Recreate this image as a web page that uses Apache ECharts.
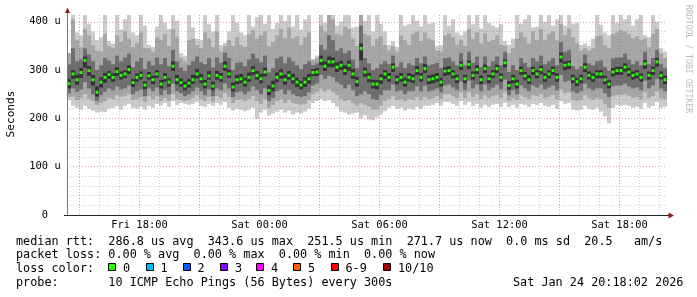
<!DOCTYPE html>
<html><head><meta charset="utf-8">
<script src="https://cdn.jsdelivr.net/npm/echarts@6/dist/echarts.min.js"></script>
<style>html,body{margin:0;padding:0;background:#fff}#c{width:697px;height:297px}</style>
</head><body><div id="c"></div>
<script>
// x values: hours since Fri 00:00; one column = 12 minutes
const START_HOUR = 14.375;
const STEP = 0.2;
const X_MAX = 44.375;
const Y_MAX = 414;

const median = [272,292,280,295,320,299,280,254,275,285, 291,285,297,289,292,301,274,285,289,269,
  288,280,292,271,285,275,308,280,274,267, 273,280,292,282,271,288,267,289,285,308,
  292,265,280,282,275,285,299,289,282,296, 258,267,285,292,280,289,282,275,269,275,
  282,295,296,320,308,317,317,306,310,299, 310,292,276,345,296,285,271,271,282,292,
  285,306,280,285,275,285,282,299,285,303, 280,282,285,275,298,299,292,282,310,282,
  312,289,301,280,303,282,292,303,285,315, 268,282,271,299,288,280,299,292,301,285,
  292,299,285,327,310,312,282,276,282,306, 289,285,292,292,280,271,296,299,299,306,
  296,289,292,285,313,289,299,317,289,280];
// lightest smoke: min .. max
const hi1 = [335,414,378,372,414,396,380,362,368,414, 360,355,414,384,405,414,378,372,414,392,
  352,348,390,414,398,385,414,402,335,330, 414,388,365,362,414,395,380,414,352,356,
  380,414,398,378,372,414,390,410,414,396, 414,385,398,414,402,414,390,414,384,405,
  414,323,330,414,398,414,414,392,400,414, 414,388,390,414,402,414,380,414,396,380,
  352,360,348,414,392,395,414,402,390,414, 396,398,350,352,414,392,405,378,372,380,
  414,395,414,386,414,398,392,388,395,360, 352,365,414,396,405,414,388,390,414,400,
  414,392,405,414,392,414,396,398,352,355, 350,365,414,394,378,372,414,398,414,405,
  414,392,405,414,372,368,414,400,345,338];
const lo1 = [238,226,222,218,226,220,216,212,214,213, 220,222,225,218,226,230,222,220,224,218,
  226,222,230,226,232,224,236,228,232,230, 228,230,234,226,224,230,226,232,228,234,
  222,216,220,218,215,218,222,200,212,218, 206,210,214,218,212,216,208,212,210,214,
  220,232,236,240,236,238,232,224,214,212, 208,210,212,200,206,198,196,202,208,215,
  222,226,220,222,216,220,218,224,220,226, 226,228,232,226,234,234,230,226,236,228,
  234,226,230,222,228,224,228,230,224,232, 224,228,222,230,228,224,230,228,232,226,
  224,228,220,236,230,232,218,216,218,226, 220,218,222,214,204,190,222,228,226,228,
  226,222,224,220,232,222,226,234,222,224];
// middle smoke
const hi2 = [335,405,362,348,385,372,352,340,338,375, 350,346,372,358,380,365,348,356,378,346,
  345,338,368,362,375,350,385,368,325,318, 362,365,352,345,378,366,348,380,338,350,
  362,350,368,352,348,375,382,365,372,380, 350,358,372,385,366,388,365,370,352,368,
  378,320,325,392,380,414,405,375,372,390, 385,365,350,414,375,372,350,365,370,352,
  340,350,338,372,362,352,375,380,360,378, 365,362,340,338,372,375,368,352,362,350,
  385,365,378,355,376,358,362,372,352,350, 335,345,365,378,368,355,380,362,385,362,
  375,380,362,395,372,386,368,356,340,345, 340,345,370,372,352,345,375,378,382,380,
  375,366,370,362,365,348,375,385,335,325];
const lo2 = [244,245,238,242,250,240,236,228,232,236, 242,240,248,244,246,250,238,240,244,234,
  246,240,246,236,242,236,250,240,238,236, 238,242,248,240,236,244,234,246,242,252,
  244,232,238,240,236,240,246,236,230,240, 222,228,236,240,232,238,232,230,228,230,
  238,250,254,262,256,260,254,248,240,236, 238,232,226,232,228,224,218,218,226,236,
  240,246,238,240,236,240,238,244,238,244, 240,242,246,240,250,250,246,242,254,242,
  254,244,250,240,248,242,246,248,242,254, 236,242,238,248,244,240,248,246,250,242,
  244,248,240,260,252,254,238,236,238,248, 242,238,242,240,230,222,246,248,248,250,
  246,242,244,240,254,242,246,256,242,240];
// dark smoke
const hi3 = [312,345,318,322,345,332,318,300,310,325, 320,312,330,318,326,334,306,318,325,302,
  318,310,326,312,325,308,342,318,305,298, 310,318,328,316,312,325,305,326,315,336,
  325,300,315,316,308,322,334,324,316,330, 295,304,324,328,314,326,318,310,302,312,
  318,310,314,352,342,372,362,340,345,335, 340,322,304,392,325,314,300,304,312,318,
  312,330,306,316,304,314,310,325,314,328, 310,312,315,304,325,326,318,310,335,310,
  338,315,328,306,328,308,318,328,310,338, 296,310,300,325,315,306,325,318,330,312,
  318,325,310,358,338,342,308,302,308,332, 314,310,318,320,306,298,324,326,326,334,
  322,312,318,310,338,312,325,342,312,304];
const lo3 = [252,262,255,260,275,262,250,236,248,255, 262,258,266,260,262,268,250,256,260,246,
  262,256,264,248,258,250,272,256,252,246, 250,256,264,256,248,260,246,262,258,272,
  262,244,254,256,250,256,266,258,250,262, 236,242,256,260,250,258,250,246,244,246,
  254,268,272,290,282,288,285,275,270,262, 270,258,246,250,256,250,240,238,248,258,
  258,270,256,258,250,256,256,266,256,268, 256,258,262,254,268,270,264,258,276,258,
  278,262,270,256,270,258,264,270,260,280, 248,258,250,268,262,256,268,264,270,260,
  264,268,258,290,276,278,256,252,256,272, 262,258,262,262,252,244,266,268,268,272,
  266,262,264,258,278,262,268,282,262,256];
// darkest smoke, around the median
const hi4 = [282,300,290,304,328,308,290,266,285,294, 298,293,306,297,300,310,282,293,297,277,
  296,288,300,280,294,283,318,290,283,276, 282,290,302,292,280,298,276,298,294,318,
  301,274,290,292,284,295,308,298,292,305, 268,278,295,302,290,298,292,284,278,285,
  292,302,304,330,318,328,326,316,320,310, 320,302,286,355,305,294,280,280,291,300,
  294,314,289,294,284,294,291,308,294,312, 289,291,294,284,306,308,300,290,318,290,
  320,297,310,289,311,290,300,311,293,322, 277,290,280,307,296,289,307,300,309,293,
  300,307,293,336,318,320,290,284,290,314, 297,293,300,300,288,279,304,307,307,314,
  304,297,300,293,321,297,307,325,297,288];
const lo4 = [262,282,270,284,305,288,268,245,264,274, 282,276,288,280,284,292,265,276,280,260,
  280,271,284,262,276,266,298,271,266,258, 264,272,283,273,262,280,258,280,276,298,
  284,256,271,273,266,276,290,280,273,287, 248,256,275,282,270,280,272,265,260,265,
  272,288,288,310,298,306,306,296,300,290, 298,282,266,320,286,275,262,260,272,282,
  276,296,271,276,266,276,273,290,276,294, 271,273,276,266,288,290,283,273,300,273,
  302,280,292,271,294,273,283,294,276,306, 259,273,262,290,279,271,290,283,292,276,
  283,290,276,316,300,302,273,267,273,296, 280,276,283,283,271,262,287,290,290,297,
  287,280,283,276,303,280,290,307,280,271];

const xTickHours = [18, 24, 30, 36, 42];
const xTickLabels = ['Fri 18:00', 'Sat 00:00', 'Sat 06:00', 'Sat 12:00', 'Sat 18:00'];
const yTickValues = [0, 100, 200, 300, 400];
const yTickLabels = ['0', '100 u', '200 u', '300 u', '400 u'];
const lossLabels = ['0', '1', '2', '3', '4', '5', '6-9', '10/10'];
const lossColors = ['#26ff00', '#00b8ff', '#0059ff', '#7e00ff', '#ff00ff', '#ff5e00', '#ff0000', '#a10000'];
const statLine1 = 'median rtt:  286.8 us avg  343.6 us max  251.5 us min  271.7 us now  0.0 ms sd  20.5   am/s';
const statLine2 = 'packet loss: 0.00 % avg  0.00 % max  0.00 % min  0.00 % now';
const probeLine = 'probe:       10 ICMP Echo Pings (56 Bytes) every 300s';
const stampText = 'Sat Jan 24 20:18:02 2026';

const times = median.map((_, i) => START_HOUR + STEP * i);

const FONT = '"DejaVu Sans Mono", monospace';
const FS = 11.8;
const AFS = 10.4;
const RED = 'rgba(210,60,60,0.5)';
const GRAY = 'rgba(140,140,140,0.45)';
const CLEAR = 'rgba(0,0,0,0)';
const xColors = [];
for (let k = 0; k < 24; k++) xColors.push(k === 5 ? RED : (k % 8 === 5 ? GRAY : CLEAR));
const yColors = [RED, GRAY, GRAY, GRAY, GRAY];

function bandSeries(lo, hi, color, z) {
  return {
    type: 'custom', z: z, clip: true, silent: true,
    data: times.map((t, i) => [t, lo[i], hi[i]]),
    encode: { x: 0, y: [1, 2] },
    renderItem: function (params, api) {
      const t = api.value(0);
      const a = api.coord([t, api.value(2)]);
      const b = api.coord([t + STEP, api.value(1)]);
      return { type: 'rect', shape: { x: a[0], y: a[1], width: b[0] - a[0], height: b[1] - a[1] }, style: { fill: color } };
    }
  };
}

const graphics = [
  { type: 'text', x: 10.7, y: 114, rotation: Math.PI / 2, style: { text: 'Seconds', font: '11.2px ' + FONT, fill: '#000', align: 'center', verticalAlign: 'middle' } },
  { type: 'text', x: 688, y: 59, rotation: -Math.PI / 2, style: { text: 'RRDTOOL / TOBI OETIKER', font: '8.2px ' + FONT, fill: '#bdbdbd', align: 'center', verticalAlign: 'middle' } },
  { type: 'text', x: 16, y: 241.5, style: { text: statLine1, font: FS + 'px ' + FONT, fill: '#000', verticalAlign: 'middle' } },
  { type: 'text', x: 16, y: 255.3, style: { text: statLine2, font: FS + 'px ' + FONT, fill: '#000', verticalAlign: 'middle' } },
  { type: 'text', x: 16, y: 268.8, style: { text: 'loss color:', font: FS + 'px ' + FONT, fill: '#000', verticalAlign: 'middle' } },
  { type: 'text', x: 16, y: 283, style: { text: probeLine, font: FS + 'px ' + FONT, fill: '#000', verticalAlign: 'middle' } },
  { type: 'text', x: 513, y: 283, style: { text: stampText, font: FS + 'px ' + FONT, fill: '#000', verticalAlign: 'middle' } },
  // axis arrows
  { type: 'line', shape: { x1: 67.5, y1: 15, x2: 67.5, y2: 12 }, style: { stroke: '#777', lineWidth: 1 } },
  { type: 'polygon', shape: { points: [[65, 13], [70, 13], [67.5, 7.5]] }, style: { fill: '#8b1a1a' } },
  { type: 'line', shape: { x1: 64, y1: 215.5, x2: 67, y2: 215.5 }, style: { stroke: '#222', lineWidth: 1 } },
  { type: 'line', shape: { x1: 667, y1: 215.5, x2: 669, y2: 215.5 }, style: { stroke: '#222', lineWidth: 1 } },
  { type: 'polygon', shape: { points: [[668.5, 212.5], [668.5, 218.5], [674, 215.5]] }, style: { fill: '#8b1a1a' } }
];
const boxX = [108, 145.5, 182.5, 220, 256, 293, 330.5, 383];
lossLabels.forEach((lab, i) => {
  graphics.push({ type: 'rect', shape: { x: Math.round(boxX[i]) + 0.5, y: 263.5, width: 7, height: 7 }, style: { fill: lossColors[i], stroke: '#000', lineWidth: 1 } });
  graphics.push({ type: 'text', x: boxX[i] + 15, y: 268.8, style: { text: lab, font: FS + 'px ' + FONT, fill: '#000', verticalAlign: 'middle' } });
});

const chart = echarts.init(document.getElementById('c'), null, { renderer: 'canvas' });
chart.setOption({
  backgroundColor: '#ffffff',
  animation: false,
  grid: { left: 67, right: 30, top: 15, bottom: 82 },
  xAxis: {
    type: 'value', min: START_HOUR, max: X_MAX, interval: 0.125, z: 8,
    axisLine: { show: true, onZero: false, lineStyle: { color: '#222', width: 1 } },
    axisTick: { show: false },
    axisLabel: {
      margin: 5, fontFamily: FONT, fontSize: AFS, color: '#000',
      formatter: function (v) {
        const k = xTickHours.findIndex(h => Math.abs(h - v) < 1e-6);
        return k >= 0 ? xTickLabels[k] : '';
      }
    },
    splitLine: { show: true, lineStyle: { color: xColors, type: [1, 2], width: 1 } }
  },
  yAxis: {
    type: 'value', min: 0, max: Y_MAX, interval: 20, z: 8,
    axisLine: { show: true, lineStyle: { color: '#777', width: 1 } },
    axisTick: { show: false },
    axisLabel: {
      margin: 22, align: 'center', fontFamily: FONT, fontSize: AFS, color: '#000',
      formatter: function (v) {
        const k = yTickValues.findIndex(h => Math.abs(h - v) < 1e-6);
        return k >= 0 ? yTickLabels[k] : '';
      }
    },
    splitLine: { show: true, showMaxLine: false, lineStyle: { color: yColors, type: [1, 2], width: 1 } }
  },
  series: [
    bandSeries(lo1, hi1, '#cacaca', 2),
    bandSeries(lo2, hi2, '#a6a6a6', 3),
    bandSeries(lo3, hi3, '#6e6e6e', 4),
    bandSeries(lo4, hi4, '#333333', 5),
    {
      type: 'custom', z: 6, clip: true, silent: true,
      data: times.map((t, i) => [t, median[i]]),
      encode: { x: 0, y: 1 },
      renderItem: function (params, api) {
        const c = api.coord([api.value(0) + STEP / 2, api.value(1)]);
        return { type: 'rect', shape: { x: c[0] - 1.5, y: c[1] - 1.5, width: 3, height: 3 }, style: { fill: '#26ff00' } };
      }
    }
  ],
  graphic: graphics
});
</script>
</body></html>
